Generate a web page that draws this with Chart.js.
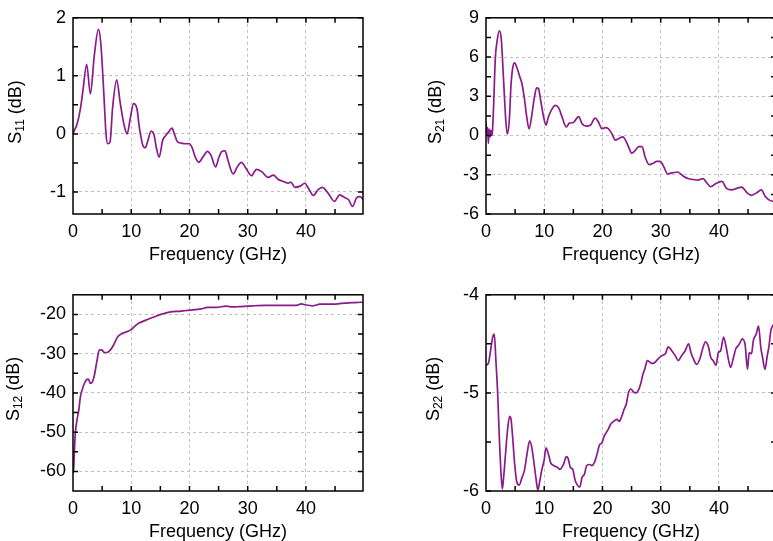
<!DOCTYPE html>
<html>
<head>
<meta charset="utf-8">
<script src="https://cdn.jsdelivr.net/npm/chart.js@4.4.0/dist/chart.umd.min.js"></script>
<style>
html,body{margin:0;padding:0;background:#fff;overflow:hidden;width:773px;height:541px;position:relative}
.p{position:absolute;width:380px;height:270px}
</style>
</head>
<body>
<div class="p" style="left:0;top:0"><canvas id="c11" width="380" height="270"></canvas></div>
<div class="p" style="left:413px;top:0"><canvas id="c21" width="380" height="270"></canvas></div>
<div class="p" style="left:0;top:277px"><canvas id="c12" width="380" height="270"></canvas></div>
<div class="p" style="left:413px;top:277px"><canvas id="c22" width="380" height="270"></canvas></div>
<script>
// 频率轴 (GHz)
const xMax = 49.8
const xTicks = [0,10,20,30,40]
const xMinor = [5,10,15,20,25,30,35,40,45]

// S11
const s11F = [0,0.1,0.7,1.3,1.7,2.35,2.98,3.67,4.36,4.8,5.3,5.67,5.96,6.36,6.8,7.5,8.1,8.8,9.3,9.85,10.4,10.95,11.4,12.0,12.4,12.8,13.4,13.9,14.3,14.8,15.4,15.9,16.4,17.0,17.4,17.9,18.6,19.4,20.0,20.5,21.0,21.6,22.3,23.1,23.7,24.5,25.0,25.5,26.1,26.6,27.5,28.2,28.9,29.7,30.65,31.5,32.4,33.5,34.4,35.2,36.1,37.0,37.4,38.1,39.0,39.8,40.4,41.3,42.1,42.8,43.8,44.9,45.8,46.7,47.3,48.0,48.7,49.3,49.8]
const s11V = [0,0.03,0.17,0.45,0.74,1.2,0.69,1.36,1.8,1.53,0.68,0,-0.17,-0.14,0.45,0.93,0.54,0.14,0,0.28,0.52,0.45,0.11,-0.2,-0.24,-0.14,0.05,-0.01,-0.23,-0.4,-0.11,-0.03,0.03,0.1,0,-0.13,-0.16,-0.17,-0.17,-0.25,-0.4,-0.49,-0.4,-0.3,-0.37,-0.57,-0.42,-0.31,-0.29,-0.45,-0.69,-0.57,-0.49,-0.59,-0.72,-0.61,-0.65,-0.75,-0.71,-0.78,-0.82,-0.85,-0.83,-0.92,-0.9,-0.85,-0.93,-1.06,-0.96,-0.92,-1.02,-1.16,-1.05,-1.1,-1.13,-1.25,-1.1,-1.08,-1.13]
const s11Ticks = [-1,0,1,2]
const s11Minor = [-0.5,0.5,1.5]

// S21
const s21F = [0,0.15,0.3,0.4,0.55,0.7,0.85,1.0,1.1,1.3,1.6,1.9,2.28,2.62,3.0,3.4,3.65,4.0,4.3,4.6,4.9,5.3,5.8,6.2,6.6,7.0,7.4,7.9,8.3,8.7,9.0,9.4,9.9,10.3,10.7,11.3,11.9,12.5,13.0,13.8,14.3,15.0,15.9,16.5,17.2,17.9,18.75,19.3,19.9,20.5,21.0,21.6,22.2,22.8,23.5,24.1,24.6,25.0,25.6,26.2,26.8,27.3,28.0,28.8,29.3,29.9,30.5,31.2,31.9,32.9,33.9,34.8,35.6,36.4,37.3,37.9,38.6,39.5,40.5,41.3,42.2,43.05,43.9,44.8,45.6,46.5,47.3,47.9,48.6,49.3,49.8]
const s21V = [1.0,0.1,0.6,-0.6,0.5,-0.1,0.4,0,0.3,2.2,5.9,7.2,8.0,7.4,4.4,1.15,0.1,1.15,3.9,5.2,5.55,5.2,4.5,3.9,2.8,1.4,0.5,1.65,2.9,3.65,3.6,2.65,1.4,0.8,1.4,2.0,2.3,2.1,1.5,0.65,0.95,1.0,1.45,0.9,0.72,0.78,1.33,1.03,0.52,0.6,0.52,0.15,-0.35,-0.23,-0.1,-0.48,-1.0,-1.36,-1.16,-0.85,-0.85,-1.6,-2.23,-2.1,-1.98,-1.98,-2.36,-2.94,-2.86,-2.79,-3.11,-3.31,-3.36,-3.41,-3.29,-3.61,-3.91,-3.66,-3.51,-4.04,-4.16,-4.04,-3.94,-4.37,-4.57,-4.37,-4.16,-4.62,-4.92,-5.04,-5.05]
const s21Ticks = [-6,-3,0,3,6,9]
const s21Minor = [-4.5,-1.5,1.5,4.5,7.5]

// S12
const s12F = [0,0.12,0.23,0.4,0.7,1.0,1.27,1.55,1.95,2.35,2.64,2.98,3.33,3.67,4.13,4.53,5.0,5.39,5.85,6.4,7.0,7.68,8.37,9.1,9.85,10.5,11.1,11.8,12.8,14.0,15.1,16.0,17.1,18.3,19.4,20.9,22.0,23.1,24.6,26.3,27.5,28.6,30.9,33.0,36.1,38.4,39.2,40.0,41.2,42.4,44.7,46.0,47.0,48.0,49.5,49.8]
const s12V = [-60.5,-59.2,-55.2,-50.2,-46.8,-44.3,-41,-39.3,-37.6,-36.6,-36.5,-37.6,-37.2,-35.5,-31.7,-29.0,-29.1,-29.7,-29.7,-29.1,-27.7,-25.7,-24.9,-24.5,-24.0,-23.2,-22.4,-21.9,-21.3,-20.6,-20.0,-19.6,-19.3,-19.2,-19.0,-18.8,-18.6,-18.2,-18.2,-17.9,-18.1,-18.0,-17.8,-17.7,-17.7,-17.7,-17.3,-17.6,-17.8,-17.4,-17.4,-17.2,-17.1,-17.0,-16.9,-16.9]
const s12Ticks = [-60,-50,-40,-30,-20]
const s12Minor = [-55,-45,-35,-25]

// S22
const s22F = [0,0.45,0.85,1.2,1.42,1.7,2.0,2.28,2.57,2.8,3.0,3.37,3.71,4.05,4.3,4.6,4.9,5.3,5.7,6.2,6.6,7.0,7.5,7.9,8.3,8.6,8.9,9.2,9.6,10.0,10.3,10.7,11.1,11.6,12.3,12.7,13.3,13.8,14.1,14.5,14.9,15.3,15.7,16.1,16.5,16.9,17.3,17.8,18.2,18.6,19.0,19.5,19.9,20.3,20.6,21.0,21.4,21.9,22.5,22.9,23.3,23.7,24.1,24.5,24.9,25.3,25.8,26.2,26.6,26.9,27.3,27.7,28.2,28.6,29.0,29.6,30.2,30.8,31.3,31.9,32.5,33.0,33.6,34.2,34.8,35.2,35.6,36.2,36.8,37.2,37.7,38.2,38.6,39.0,39.5,39.9,40.3,40.8,41.2,41.6,42.0,42.5,42.9,43.3,43.6,44.0,44.5,44.9,45.2,45.6,45.9,46.4,46.8,47.2,47.5,47.9,48.3,48.6,48.9,49.2,49.8]
const s22V = [-4.72,-4.69,-4.54,-4.42,-4.40,-4.67,-5.0,-5.44,-5.81,-5.98,-5.88,-5.61,-5.37,-5.24,-5.27,-5.47,-5.71,-5.91,-5.94,-5.86,-5.79,-5.64,-5.49,-5.57,-5.74,-5.88,-5.99,-5.91,-5.78,-5.68,-5.56,-5.62,-5.71,-5.74,-5.76,-5.78,-5.73,-5.65,-5.67,-5.76,-5.78,-5.89,-5.94,-5.96,-5.86,-5.83,-5.74,-5.73,-5.74,-5.71,-5.64,-5.53,-5.51,-5.44,-5.41,-5.37,-5.32,-5.29,-5.27,-5.29,-5.24,-5.17,-5.11,-4.99,-4.96,-4.99,-5.0,-4.97,-4.9,-4.82,-4.75,-4.67,-4.69,-4.70,-4.69,-4.65,-4.62,-4.60,-4.53,-4.57,-4.62,-4.67,-4.62,-4.57,-4.50,-4.59,-4.65,-4.71,-4.64,-4.55,-4.48,-4.53,-4.64,-4.67,-4.72,-4.59,-4.57,-4.43,-4.52,-4.65,-4.74,-4.64,-4.55,-4.52,-4.49,-4.45,-4.51,-4.76,-4.59,-4.6,-4.47,-4.40,-4.32,-4.54,-4.64,-4.76,-4.62,-4.52,-4.37,-4.32,-4.28]
const s22Ticks = [-6,-5,-4]
const s22Minor = [-5.5,-4.5]

const FONT = 'Arial, "Liberation Sans", sans-serif'
const 线色 = '#8b1a8b'
const 网格色 = '#c0c0c0'

// 边框、内向刻度和带下标的 y 轴标题
const framePlugin = {
  id:'frame',
  afterDraw(chart, args, o){
    const {ctx, chartArea:a, scales:{x,y}} = chart
    ctx.save()
    ctx.strokeStyle = '#000'
    ctx.lineWidth = 1.5
    ctx.beginPath()
    xMinor.forEach(v=>{
      const px = x.getPixelForValue(v)
      ctx.moveTo(px,a.bottom); ctx.lineTo(px,a.bottom-5)
      ctx.moveTo(px,a.top); ctx.lineTo(px,a.top+5)
    })
    o.yMarks.forEach(v=>{
      const py = y.getPixelForValue(v)
      ctx.moveTo(a.left,py); ctx.lineTo(a.left+5,py)
      ctx.moveTo(a.right,py); ctx.lineTo(a.right-5,py)
    })
    ctx.stroke()
    ctx.strokeRect(a.left,a.top,a.right-a.left,a.bottom-a.top)
    // y 轴标题
    ctx.fillStyle = '#000'
    ctx.translate(o.titleX,(a.top+a.bottom)/2-4)
    ctx.rotate(-Math.PI/2)
    ctx.textBaseline = 'middle'
    ctx.font = '18px '+FONT
    const wS = ctx.measureText('S').width
    const rest = ' (dB)'
    const wR = ctx.measureText(rest).width
    ctx.font = '12px '+FONT
    const wSub = ctx.measureText(o.sub).width
    let cx = -(wS+wSub+wR)/2
    ctx.font = '18px '+FONT
    ctx.fillText('S',cx,0); cx += wS
    ctx.font = '12px '+FONT
    ctx.fillText(o.sub,cx,5); cx += wSub
    ctx.font = '18px '+FONT
    ctx.fillText(rest,cx,0)
    ctx.restore()
  }
}

function 画图(id, fs, vs, yMin, yMax, yTicks, yMinor, sub, titleX){
  const pts = fs.map((f,i)=>({x:f,y:vs[i]}))
  const edge = (v,lo,hi)=>Math.abs(v-lo)<1e-9||Math.abs(v-hi)<1e-9
  new Chart(document.getElementById(id),{
    type:'line',
    data:{datasets:[{data:pts,borderColor:线色,borderWidth:1.7,pointRadius:0,cubicInterpolationMode:'monotone',fill:false}]},
    options:{
      responsive:false,animation:false,
      layout:{padding:{top:15,right:17,left:0,bottom:0}},
      plugins:{legend:{display:false},tooltip:{enabled:false},
        frame:{yMarks:yMinor.concat(yTicks),sub,titleX}},
      scales:{
        x:{type:'linear',min:0,max:xMax,
          afterBuildTicks:s=>{s.ticks = xTicks.map(v=>({value:v}))},
          afterFit:s=>{s.height = 56},
          ticks:{color:'#000',font:{size:18,family:FONT},padding:7,maxRotation:0,autoSkip:false},
          grid:{drawTicks:false,lineWidth:1,color:c=>c.tick&&!edge(c.tick.value,0,xMax)?网格色:'rgba(0,0,0,0)'},
          border:{display:false,dash:[3,3]},
          title:{display:true,text:'Frequency (GHz)',color:'#000',font:{size:18,family:FONT},padding:{top:0,bottom:4}}},
        y:{type:'linear',min:yMin,max:yMax,
          afterBuildTicks:s=>{s.ticks = yTicks.map(v=>({value:v}))},
          afterFit:s=>{s.width = 73},
          ticks:{color:'#000',font:{size:18,family:FONT},padding:7,autoSkip:false},
          grid:{drawTicks:false,lineWidth:1,color:c=>c.tick&&!edge(c.tick.value,yMin,yMax)?网格色:'rgba(0,0,0,0)'},
          border:{display:false,dash:[3,3]}}
      }
    },
    plugins:[framePlugin]
  })
}

画图('c11',s11F,s11V,-1.38,2,s11Ticks,s11Minor,'11',16)
画图('c21',s21F,s21V,-6,9,s21Ticks,s21Minor,'21',23)
画图('c12',s12F,s12V,-65,-15,s12Ticks,s12Minor,'12',14)
画图('c22',s22F,s22V,-6,-4,s22Ticks,s22Minor,'22',21)
</script>
</body>
</html>
